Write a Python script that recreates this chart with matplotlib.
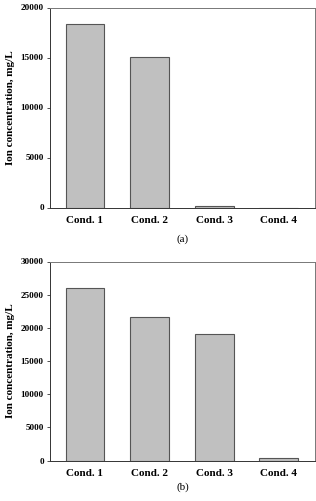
import numpy as np
import matplotlib.pyplot as plt

conditions = ["Cond. 1", "Cond. 2", "Cond. 3", "Cond. 4"]
values_a = [18400, 15070, 110, 0]
values_b = [26080, 21580, 19080, 350]
yticks_a = [0, 5000, 10000, 15000, 20000]
yticks_b = [0, 5000, 10000, 15000, 20000, 25000, 30000]

plt.rcParams['font.family'] = ['Liberation Serif', 'DejaVu Serif']

fig = plt.figure(figsize=(3.16, 5.01), dpi=100)
W, H = 316, 501


def panel(rect, values, yticks, caption, cap_y):
    l, t, r, b = rect
    ax = fig.add_axes([l / W, 1 - b / H, (r - l) / W, (b - t) / H])
    x = np.arange(len(conditions))
    ax.bar(x, values, width=0.6, color='#c0c0c0', edgecolor='#555555', linewidth=0.8)
    ax.set_xlim(-0.54, 3.56)
    ax.set_ylim(yticks[0], yticks[-1])
    ax.set_yticks(yticks)
    ax.set_yticklabels([str(v) for v in yticks], fontsize=6.6, fontweight='bold')
    ax.set_xticks(x)
    ax.set_xticklabels(conditions, fontsize=8, fontweight='bold')
    ax.tick_params(axis='x', length=0, pad=6)
    ax.tick_params(axis='y', length=2.5, width=0.6, pad=2, color='#333333')
    for s in ax.spines.values():
        s.set_color('#777777')
        s.set_linewidth(0.7)
    ax.spines['left'].set_color('#333333')
    ax.spines['bottom'].set_color('#333333')
    ax.set_ylabel("Ion concentration, mg/L", fontsize=8, fontweight='bold', labelpad=4)
    fig.text(((l + r) / 2) / W, 1 - cap_y / H, caption, ha='center', va='center', fontsize=8)
    return ax


panel((50, 7.5, 315, 207.5), values_a, yticks_a, "(a)", 239)
panel((50, 261.5, 315, 460.5), values_b, yticks_b, "(b)", 487)

fig.savefig("out.png", dpi=100)
